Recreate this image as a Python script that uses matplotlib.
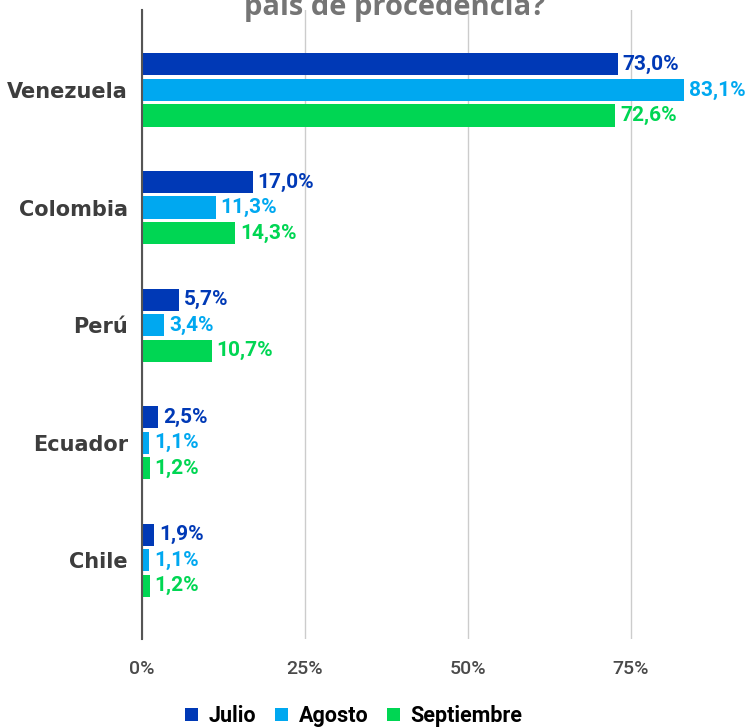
import matplotlib.pyplot as plt
from matplotlib.patches import Patch
import numpy as np

# data
paises = ['Venezuela', 'Colombia', 'Perú', 'Ecuador', 'Chile']
meses = ['Julio', 'Agosto', 'Septiembre']
julio = [73.0, 17.0, 5.7, 2.5, 1.9]
agosto = [83.1, 11.3, 3.4, 1.1, 1.1]
septiembre = [72.6, 14.3, 10.7, 1.2, 1.2]
ticks = [0, 25, 50, 75]
colores = ['#0039b6', '#00a8f0', '#00d653']

fig = plt.figure(figsize=(7.48, 7.28), dpi=100)
ax = fig.add_axes([142 / 748, 89 / 728, 1 - 142 / 748, 629 / 728])

y = np.arange(len(paises))
paso = 0.217
alto = 0.188
for i, (serie, color) in enumerate(zip([julio, agosto, septiembre], colores)):
    pos = y + (i - 1) * paso
    ax.barh(pos, serie, height=alto, color=color, zorder=3)
    for p, v in zip(pos, serie):
        ax.annotate(f'{v:.1f}%'.replace('.', ','), (v, p), xytext=(3.5, 0),
                    textcoords='offset points', va='center', ha='left',
                    color=color, fontsize=15, fontweight='bold',
                    family='Roboto')

ax.set_xlim(0, 606 / 6.52)
ax.set_ylim(4.67, -0.68)
ax.set_yticks(y)
ax.set_yticklabels(paises, fontsize=15, fontweight='bold', color='#3d3d3d',
                   family='DejaVu Sans')
ax.set_xticks(ticks)
ax.set_xticklabels([f'{t}%' for t in ticks], fontsize=14, color='#4a4a4a',
                   family='Roboto', fontweight='medium')
ax.tick_params(axis='both', length=0)
ax.tick_params(axis='x', pad=15)
ax.tick_params(axis='y', pad=10)
ax.grid(axis='x', color='#cccccc', linewidth=1, zorder=0)
for s in ['top', 'right', 'bottom']:
    ax.spines[s].set_visible(False)
ax.spines['left'].set_color('#555555')
ax.spines['left'].set_linewidth(1.5)
ax.spines['left'].set_zorder(4)

fig.text(0.528, 1 - 15 / 728, 'país de procedencia?', ha='center',
         va='baseline', fontsize=21, fontweight='bold', color='#757575',
         family='Open Sans')

handles = [Patch(facecolor=c) for c in colores]
fig.legend(handles, meses, loc='center', bbox_to_anchor=(0.473, 1 - 716 / 728),
           ncol=3, frameon=False, handlelength=0.6, handleheight=0.6,
           handletextpad=0.5, columnspacing=0.85,
           prop={'family': 'Roboto', 'weight': 'bold', 'size': 15.5})

fig.savefig('out.png', dpi=100)
